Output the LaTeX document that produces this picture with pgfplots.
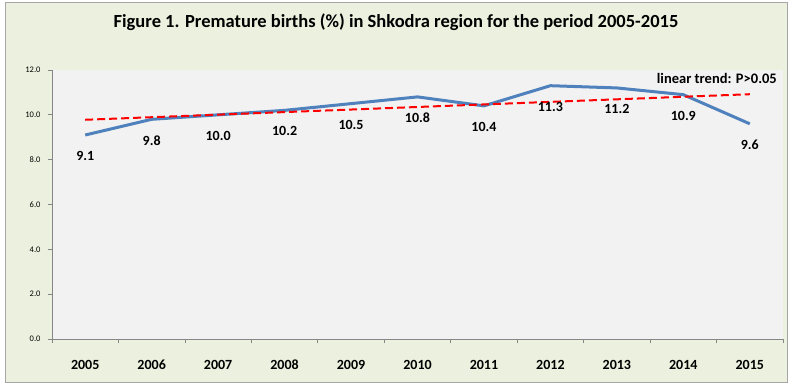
\documentclass[border=0pt]{standalone}
\usepackage{fontspec}
\setmainfont{Carlito}
\usepackage{pgfplots}
\pgfplotsset{compat=1.18}
\definecolor{outerbg}{HTML}{EBF1DE}
\definecolor{plotbg}{HTML}{F2F2F2}
\definecolor{bordergray}{HTML}{A6A6A6}
\definecolor{axisgray}{HTML}{868686}
\definecolor{lineblue}{HTML}{4F81BD}
\begin{document}
\begin{tikzpicture}[x=1pt,y=1pt]
\useasboundingbox (0,0) rectangle (790,389);
\fill[white] (0,0) rectangle (790,389);
\draw[bordergray, fill=outerbg, line width=1pt] (5,7) rectangle (787,386);
\node[font=\fontsize{18.5}{20}\selectfont\bfseries] at (396,367) {Figure 1. Premature births (\%) in Shkodra region for the period 2005-2015};
\begin{axis}[
  at={(52pt,50pt)}, anchor=south west,
  scale only axis, width=731pt, height=269pt,
  xmin=-0.5, xmax=10.5, ymin=0, ymax=12,
  axis lines*=left,
  axis line style={axisgray, line width=0.8pt},
  axis background/.style={fill=plotbg},
  xtick={0,...,10},
  xticklabels={2005,2006,2007,2008,2009,2010,2011,2012,2013,2014,2015},
  major x tick style={draw=none},
  minor xtick={-0.5,0.5,...,10.5},
  minor x tick style={axisgray, line width=0.8pt},
  ytick={0,2,...,12},
  y tick style={axisgray, line width=0.8pt},
  tick align=outside,
  major tick length=4pt, minor tick length=4pt,
  /pgf/number format/assume math mode=true,
  yticklabel style={font=\fontsize{8.5}{9}\selectfont, /pgf/number format/fixed, /pgf/number format/precision=1, /pgf/number format/fixed zerofill, xshift=-4pt},
  xticklabel style={font=\fontsize{14}{15}\selectfont\bfseries, anchor=center, yshift=-22pt},
  clip=false,
]
\addplot[lineblue, line width=3pt, line join=round,
  nodes near coords,
  every node near coord/.style={anchor=center, yshift=-21pt, font=\fontsize{14}{15}\selectfont\bfseries, black, /pgf/number format/fixed, /pgf/number format/precision=1, /pgf/number format/fixed zerofill, /pgf/number format/assume math mode=true},
] coordinates {
(0,9.1) (1,9.8) (2,10.0) (3,10.2) (4,10.5) (5,10.8) (6,10.4) (7,11.3) (8,11.2) (9,10.9) (10,9.6)
};
\addplot[red, line width=2pt, dash pattern=on 8pt off 4pt] coordinates {(0,9.78) (10,10.92)};
\node[font=\fontsize{14.5}{15}\selectfont\bfseries, anchor=east] at (axis cs:10.46,11.64) {linear trend: P>0.05};
\end{axis}
\end{tikzpicture}
\end{document}
